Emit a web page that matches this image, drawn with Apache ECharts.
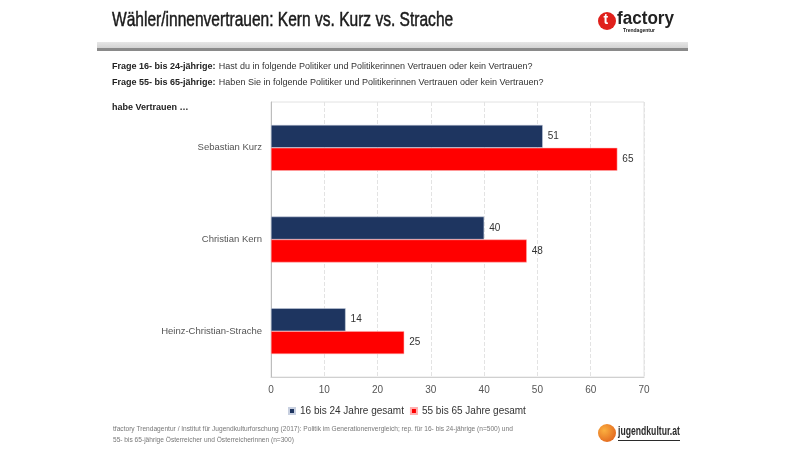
<!DOCTYPE html>
<html><head><meta charset="utf-8">
<script src="https://cdn.jsdelivr.net/npm/echarts@6/dist/echarts.min.js"></script>
<style>html,body{margin:0;padding:0;background:#fff}#c{width:800px;height:452px}</style>
</head><body><div id="c"></div>
<script>
const categories = ["Sebastian Kurz", "Christian Kern", "Heinz-Christian-Strache"];
const seriesNames = ["16 bis 24 Jahre gesamt", "55 bis 65 Jahre gesamt"];
const young = [51, 40, 14];
const old = [65, 48, 25];
const xTicks = [0, 10, 20, 30, 40, 50, 60, 70];

const chart = echarts.init(document.getElementById('c'), null, {renderer: 'canvas'});
const F = 'Liberation Sans, Arial, sans-serif';
chart.setOption({
  backgroundColor: '#fff',
  animation: false,
  textStyle: {fontFamily: F},
  grid: {left: 271, right: 156, top: 102, bottom: 75, show: true, borderColor: '#e2e2e2', borderWidth: 1},
  legend: {
    data: seriesNames, top: 401, left: 283, icon: 'rect', itemWidth: 6, itemHeight: 6, itemGap: 6,
    textStyle: {fontSize: 10, color: '#333', fontFamily: F}
  },
  xAxis: {
    type: 'value', min: xTicks[0], max: xTicks[xTicks.length - 1], interval: 10,
    axisLine: {show: true, lineStyle: {color: '#d0d0d0'}},
    axisTick: {show: false},
    axisLabel: {color: '#555', fontSize: 10, margin: 8},
    splitLine: {show: true, lineStyle: {color: '#e3e3e3', type: 'dashed'}}
  },
  yAxis: {
    type: 'category', data: categories, inverse: true,
    axisLine: {show: true, lineStyle: {color: '#bdbdbd'}},
    axisTick: {show: false},
    axisLabel: {color: '#555', fontSize: 9.5, margin: 9}
  },
  series: [
    {name: seriesNames[0], type: 'bar', data: young, barGap: '0%', barCategoryGap: '50%',
     itemStyle: {color: '#1e3560', borderColor: '#c8d0e0', borderWidth: 0.5},
     label: {show: true, position: 'right', color: '#333', fontSize: 10, distance: 5}},
    {name: seriesNames[1], type: 'bar', data: old, barGap: '0%', barCategoryGap: '50%',
     itemStyle: {color: '#ff0000', borderColor: '#ffb0b0', borderWidth: 0.5},
     label: {show: true, position: 'right', color: '#333', fontSize: 10, distance: 5}}
  ],
  graphic: [
    {type: 'text', x: 112, y: 10, scaleX: 0.74, style: {text: 'Wähler/innenvertrauen: Kern vs. Kurz vs. Strache', font: '21px ' + F, fill: '#1a1a1a', stroke: '#1a1a1a', lineWidth: 0.5}},
    {type: 'rect', shape: {x: 97, y: 42, width: 591, height: 7},
     style: {fill: new echarts.graphic.LinearGradient(0, 0, 0, 1, [{offset: 0, color: '#e6e6e6'}, {offset: 1, color: '#cfcfcf'}])}},
    {type: 'rect', shape: {x: 97, y: 48, width: 591, height: 3}, style: {fill: '#8a8a8a'}},
    {type: 'circle', shape: {cx: 607, cy: 21, r: 9}, style: {fill: '#e0201b'}},
    {type: 'text', x: 603.5, y: 13, style: {text: 't', font: 'bold 14px ' + F, fill: '#fff'}},
    {type: 'text', x: 617, y: 10, scaleX: 0.95, style: {text: 'factory', font: 'bold 18px ' + F, fill: '#222'}},
    {type: 'text', x: 623, y: 28, style: {text: 'Trendagentur', font: 'bold 5px ' + F, fill: '#222'}},
    {type: 'text', x: 112, y: 61, style: {rich: {b: {font: 'bold 9px ' + F, fill: '#222'}, r: {font: '9px ' + F, fill: '#333'}}, text: '{b|Frage 16- bis 24-jährige:} {r|Hast du in folgende Politiker und Politikerinnen Vertrauen oder kein Vertrauen?}'}},
    {type: 'text', x: 112, y: 77, style: {rich: {b: {font: 'bold 9px ' + F, fill: '#222'}, r: {font: '9px ' + F, fill: '#333'}}, text: '{b|Frage 55- bis 65-jährige:} {r|Haben Sie in folgende Politiker und Politikerinnen Vertrauen oder kein Vertrauen?}'}},
    {type: 'text', x: 112, y: 103, style: {text: 'habe Vertrauen …', font: 'bold 9px ' + F, fill: '#222'}},
    {type: 'text', x: 113, y: 424, style: {text: 'tfactory Trendagentur / Institut für Jugendkulturforschung (2017): Politik im Generationenvergleich; rep. für 16- bis 24-jährige (n=500) und\n55- bis 65-jährige Österreicher und Österreicherinnen (n=300)', font: '6.6px ' + F, fill: '#777', lineHeight: 11}},
    {type: 'circle', shape: {cx: 607, cy: 433, r: 9}, style: {fill: new echarts.graphic.RadialGradient(0.35, 0.35, 0.8, [{offset: 0, color: '#fbb040'}, {offset: 1, color: '#e0601b'}])}},
    {type: 'text', x: 618, y: 426, scaleX: 0.72, style: {text: 'jugendkultur.at', font: 'bold 12px ' + F, fill: '#2a2a2a'}},
    {type: 'rect', shape: {x: 618, y: 440, width: 62, height: 1}, style: {fill: '#2a2a2a'}}
  ]
});
</script></body></html>
